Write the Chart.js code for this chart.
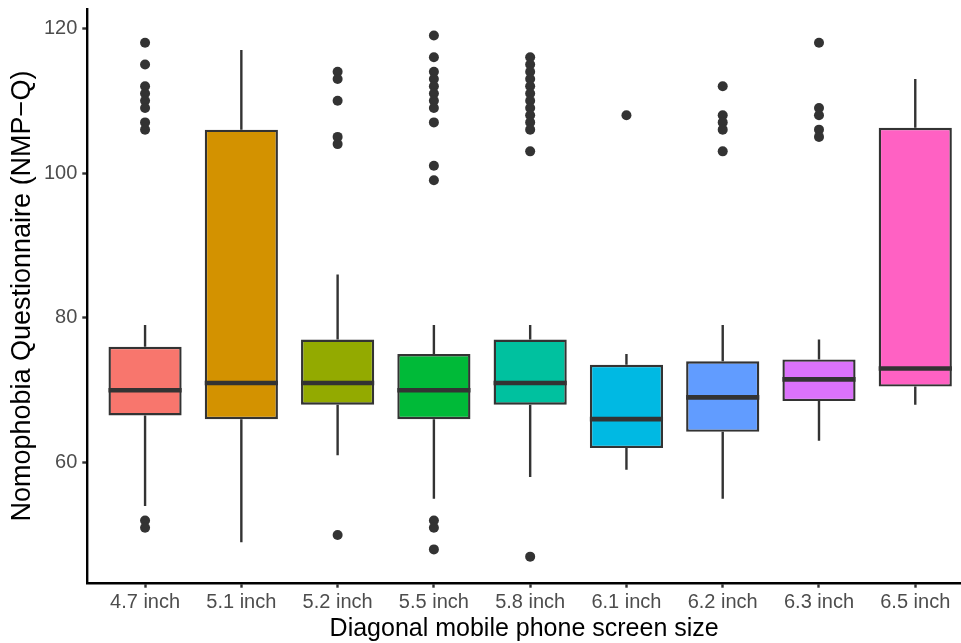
<!DOCTYPE html>
<html>
<head>
<meta charset="utf-8">
<script src="https://cdn.jsdelivr.net/npm/chart.js@4.4.1/dist/chart.umd.min.js"></script>
<style>
  html, body { margin: 0; padding: 0; background: #fff; overflow: hidden; }
  #wrap { width: 961px; height: 643px; }
</style>
</head>
<body>
<div id="wrap"><canvas id="chart"></canvas></div>
<script>
const categories = ["4.7 inch", "5.1 inch", "5.2 inch", "5.5 inch", "5.8 inch", "6.1 inch", "6.2 inch", "6.3 inch", "6.5 inch"];
const lowerWhisker = [54, 49, 61, 55, 58, 59, 55, 63, 68];
const q1 = [66.5, 66, 68, 66, 68, 62, 64.25, 68.5, 70.5];
const medians = [70, 71, 71, 70, 71, 66, 69, 71.5, 73];
const q3 = [76, 106, 77, 75, 77, 73.5, 74, 74.25, 106.25];
const upperWhisker = [79, 117, 86, 79, 79, 75, 79, 77, 113];
const outliers = [
  [118, 115, 112, 111, 110, 109, 107, 106, 52, 51],
  [],
  [114, 113, 110, 105, 104, 50],
  [119, 116, 114, 113, 112, 111, 110, 109, 107, 101, 99, 52, 51, 48],
  [116, 115, 114, 113, 112, 111, 110, 109, 108, 107, 106, 103, 47],
  [108],
  [112, 108, 107, 106, 103],
  [118, 109, 108, 106, 105],
  []
];
const yTicks = [60, 80, 100, 120];

const boxColors = ["#F8766D", "#D39200", "#93AA00", "#00BA38", "#00C19F", "#00B9E3", "#619CFF", "#DB72FB", "#FF61C3"];
const ink = "#333333";

// whiskers behind the boxes, median bars on top
const boxParts = {
  id: "boxParts",
  beforeDatasetsDraw(chart) {
    const y = chart.scales.y;
    const ctx = chart.ctx;
    const bars = chart.getDatasetMeta(0).data;
    ctx.save();
    ctx.strokeStyle = ink;
    ctx.lineWidth = 2.4;
    bars.forEach((bar, i) => {
      ctx.beginPath();
      ctx.moveTo(bar.x, y.getPixelForValue(q3[i]));
      ctx.lineTo(bar.x, y.getPixelForValue(upperWhisker[i]));
      ctx.moveTo(bar.x, y.getPixelForValue(q1[i]));
      ctx.lineTo(bar.x, y.getPixelForValue(lowerWhisker[i]));
      ctx.stroke();
    });
    ctx.restore();
  },
  afterDatasetsDraw(chart) {
    const y = chart.scales.y;
    const ctx = chart.ctx;
    const bars = chart.getDatasetMeta(0).data;
    ctx.save();
    ctx.strokeStyle = ink;
    ctx.lineWidth = 4.6;
    bars.forEach((bar, i) => {
      const py = y.getPixelForValue(medians[i]);
      ctx.beginPath();
      ctx.moveTo(bar.x - bar.width / 2, py);
      ctx.lineTo(bar.x + bar.width / 2, py);
      ctx.stroke();
    });
    ctx.restore();
  }
};

const outlierPoints = [];
outliers.forEach((vals, i) => {
  vals.forEach((v) => outlierPoints.push({ x: i + 1, y: v }));
});

const config = {
  type: "bar",
  data: {
    datasets: [
      {
        type: "bar",
        data: categories.map((c, i) => ({ x: i + 1, y: [q1[i], q3[i]] })),
        backgroundColor: boxColors,
        borderColor: ink,
        borderWidth: 2.4,
        borderSkipped: false,
        barPercentage: 0.76,
        categoryPercentage: 1,
        order: 2
      },
      {
        type: "scatter",
        data: outlierPoints,
        pointRadius: 5,
        pointBorderWidth: 0,
        pointBackgroundColor: ink,
        showLine: false,
        clip: false,
        order: 1
      }
    ]
  },
  options: {
    responsive: true,
    maintainAspectRatio: false,
    animation: false,
    layout: { autoPadding: false, padding: { top: 9.5, right: 0, left: 0, bottom: 0 } },
    plugins: {
      legend: { display: false },
      tooltip: { enabled: false }
    },
    scales: {
      x: {
        type: "linear",
        offset: false,
        min: 0.4,
        max: 9.475,
        afterBuildTicks: (scale) => {
          scale.ticks = categories.map((c, i) => ({ value: i + 1 }));
        },
        afterFit: (scale) => {
          scale.height = 60.3;
          scale.paddingLeft = 0;
          scale.paddingRight = 0;
        },
        ticks: {
          autoSkip: false,
          maxRotation: 0,
          padding: 3,
          color: "#4D4D4D",
          font: { family: "Liberation Sans, Arial, sans-serif", size: 20 },
          callback: (value) => categories[value - 1]
        },
        grid: { offset: false, drawOnChartArea: false, tickLength: 5, tickColor: ink, tickWidth: 2.4 },
        border: { color: "#000", width: 2.4 },
        title: {
          display: true,
          text: "Diagonal mobile phone screen size",
          color: "#000",
          font: { family: "Liberation Sans, Arial, sans-serif", size: 25, lineHeight: 1 },
          padding: { top: 0, bottom: 1.5 }
        }
      },
      y: {
        min: 43.4,
        max: 122.6,
        afterBuildTicks: (scale) => {
          scale.ticks = yTicks.map((v) => ({ value: v }));
        },
        afterFit: (scale) => {
          scale.width = 87.3;
          scale.paddingTop = 0;
          scale.paddingBottom = 0;
        },
        ticks: {
          padding: 5,
          color: "#4D4D4D",
          font: { family: "Liberation Sans, Arial, sans-serif", size: 20 }
        },
        grid: { drawOnChartArea: false, tickLength: 5, tickColor: ink, tickWidth: 2.4 },
        border: { color: "#000", width: 2.4 },
        title: {
          display: true,
          text: "Nomophobia Questionnaire (NMP\u2212Q)",
          color: "#000",
          font: { family: "Liberation Sans, Arial, sans-serif", size: 27, lineHeight: 1 },
          padding: { top: 9, bottom: 0 }
        }
      }
    }
  },
  plugins: [boxParts]
};

const ctx = document.getElementById("chart").getContext("2d");
new Chart(ctx, config);
</script>
</body>
</html>
